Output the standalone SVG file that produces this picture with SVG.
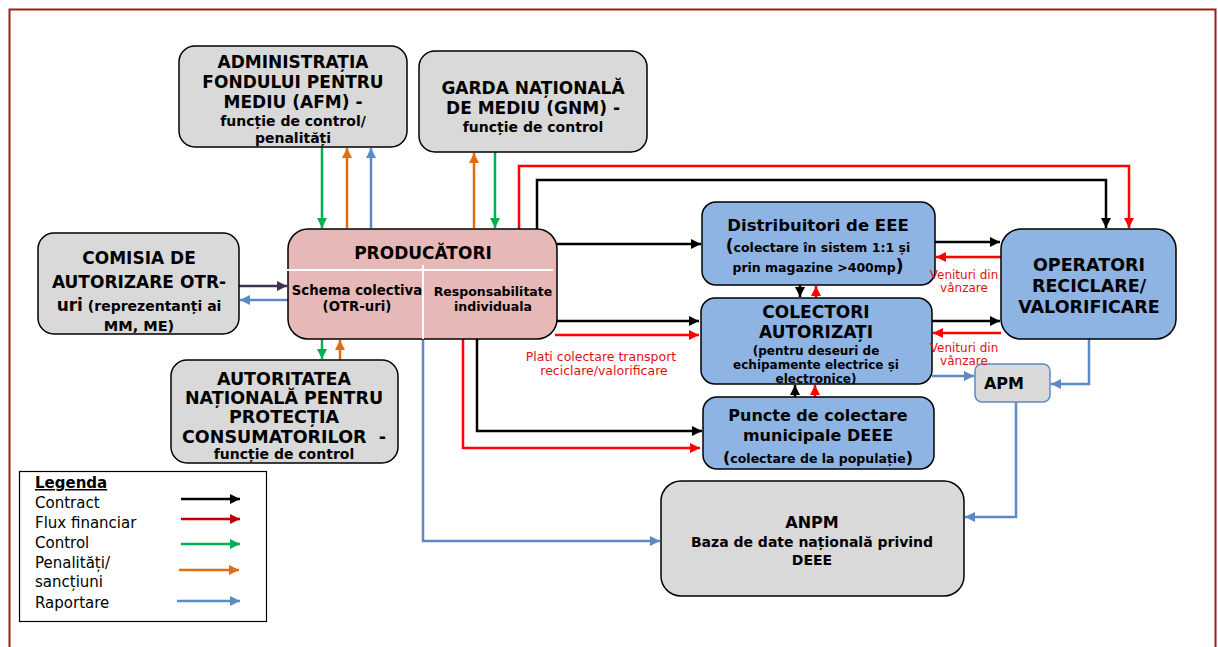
<svg xmlns="http://www.w3.org/2000/svg" width="1218" height="647" viewBox="0 0 1218 647">
<style>
.box{stroke:#000;stroke-width:1.5}
.gray{fill:#d9d9d9}
.blue{fill:#8eb4e3}
.pink{fill:#e6b8b7}
text{font-family:"DejaVu Sans","Liberation Sans",sans-serif;text-anchor:middle;fill:#000}
.b{font-weight:bold}
.t17{font-size:17px}
.t13{font-size:14px}
.t12{font-size:12px}
.red{fill:#e01010;font-size:12.5px}
.red2{fill:#e01010;font-size:12px}
.leg{font-size:15px;text-anchor:start}
.k{stroke:#000;fill:none;stroke-width:2.5}
.r{stroke:#ff0000;fill:none;stroke-width:2.5}
.g{stroke:#00b050;fill:none;stroke-width:2.5}
.o{stroke:#e46c0a;fill:none;stroke-width:2.5}
.bl{stroke:#5b8ac6;fill:none;stroke-width:2.5}
.pu{stroke:#403152;fill:none;stroke-width:2.5}
</style>
<defs>
<marker id="ak" viewBox="0 0 10 10" refX="10" refY="5" markerWidth="10" markerHeight="10" markerUnits="userSpaceOnUse" orient="auto"><path d="M0,0L10,5L0,10z" fill="#000"/></marker>
<marker id="ar" viewBox="0 0 10 10" refX="10" refY="5" markerWidth="10" markerHeight="10" markerUnits="userSpaceOnUse" orient="auto"><path d="M0,0L10,5L0,10z" fill="#ff0000"/></marker>
<marker id="ag" viewBox="0 0 10 10" refX="10" refY="5" markerWidth="10" markerHeight="10" markerUnits="userSpaceOnUse" orient="auto"><path d="M0,0L10,5L0,10z" fill="#00b050"/></marker>
<marker id="ao" viewBox="0 0 10 10" refX="10" refY="5" markerWidth="10" markerHeight="10" markerUnits="userSpaceOnUse" orient="auto"><path d="M0,0L10,5L0,10z" fill="#e46c0a"/></marker>
<marker id="ab" viewBox="0 0 10 10" refX="10" refY="5" markerWidth="10" markerHeight="10" markerUnits="userSpaceOnUse" orient="auto"><path d="M0,0L10,5L0,10z" fill="#5b8ac6"/></marker>
<marker id="ap" viewBox="0 0 10 10" refX="10" refY="5" markerWidth="10" markerHeight="10" markerUnits="userSpaceOnUse" orient="auto"><path d="M0,0L10,5L0,10z" fill="#403152"/></marker>
<marker id="adr" viewBox="0 0 10 10" refX="10" refY="5" markerWidth="10" markerHeight="10" markerUnits="userSpaceOnUse" orient="auto"><path d="M0,0L10,5L0,10z" fill="#c00000"/></marker>
</defs>
<rect x="0" y="0" width="1218" height="647" fill="#fff"/>
<rect x="9.5" y="9.5" width="1206" height="660" fill="none" stroke="#a01c1c" stroke-width="2"/>

<g id="connectors">
<line class="g" x1="322" y1="147" x2="322" y2="228" marker-end="url(#ag)"/>
<line class="o" x1="347" y1="228" x2="347" y2="148" marker-end="url(#ao)"/>
<line class="bl" x1="371" y1="228" x2="371" y2="148" marker-end="url(#ab)"/>
<line class="o" x1="474" y1="228" x2="474" y2="153" marker-end="url(#ao)"/>
<line class="g" x1="495" y1="152" x2="495" y2="228" marker-end="url(#ag)"/>
<polyline class="r" points="519,229 519,166 1129,166 1129,228" marker-end="url(#ar)"/>
<polyline class="k" points="537,229 537,180 1106,180 1106,228" marker-end="url(#ak)"/>
<line class="k" x1="557" y1="244" x2="701" y2="244" marker-end="url(#ak)"/>
<line class="k" x1="555" y1="321" x2="699" y2="321" marker-end="url(#ak)"/>
<line class="r" x1="555" y1="335" x2="699" y2="335" marker-end="url(#ar)"/>
<polyline class="k" points="477,339 477,431 702,431" marker-end="url(#ak)"/>
<polyline class="r" points="463,339 463,448 700,448" marker-end="url(#ar)" stroke-width="2"/>
<line class="k" x1="935" y1="242" x2="1000" y2="242" marker-end="url(#ak)"/>
<line class="r" x1="1001" y1="257" x2="936" y2="257" marker-end="url(#ar)"/>
<line class="k" x1="932" y1="321" x2="1000" y2="321" marker-end="url(#ak)"/>
<line class="r" x1="1001" y1="333" x2="933" y2="333" marker-end="url(#ar)"/>
<line class="k" x1="800" y1="285" x2="800" y2="297" marker-end="url(#ak)" stroke-width="1.5"/>
<line class="r" x1="816" y1="298" x2="816" y2="286" marker-end="url(#ar)" stroke-width="1.5"/>
<line class="k" x1="795" y1="397" x2="795" y2="385" marker-end="url(#ak)" stroke-width="1.5"/>
<line class="r" x1="815" y1="397" x2="815" y2="385" marker-end="url(#ar)" stroke-width="1.5"/>
<polyline class="bl" points="423,339 423,541 660,541" marker-end="url(#ab)"/>
<line class="bl" x1="932" y1="376" x2="974" y2="376" marker-end="url(#ab)" stroke-width="2"/>
<polyline class="bl" points="1089,339 1089,384 1051,384" marker-end="url(#ab)"/>
<polyline class="bl" points="1016,402 1016,517 965,517" marker-end="url(#ab)" stroke-width="2"/>
<line class="pu" x1="239" y1="286" x2="287" y2="286" marker-end="url(#ap)"/>
<line class="bl" x1="288" y1="300" x2="240" y2="300" marker-end="url(#ab)"/>
<line class="g" x1="322" y1="339" x2="322" y2="359" marker-end="url(#ag)"/>
<line class="o" x1="340" y1="360" x2="340" y2="340" marker-end="url(#ao)"/>
</g>

<g id="afm">
<rect class="box gray" x="179" y="46" width="228" height="101" rx="16"/>
<text class="b t17" x="293" y="68">ADMINISTRAȚIA</text>
<text class="b t17" x="293" y="88">FONDULUI PENTRU</text>
<text class="b t17" x="293" y="108">MEDIU (AFM) -</text>
<text class="b t13" x="293" y="126">funcție de control/</text>
<text class="b t13" x="293" y="143">penalități</text>
</g>

<g id="gnm">
<rect class="box gray" x="419" y="51" width="228" height="101" rx="16"/>
<text class="b t17" x="533" y="94">GARDA NAȚIONALĂ</text>
<text class="b t17" x="533" y="114">DE MEDIU (GNM) -</text>
<text class="b t13" x="533" y="132">funcție de control</text>
</g>

<g id="comisia">
<rect class="box gray" x="38" y="233" width="201" height="101" rx="16"/>
<text class="b t17" x="139" y="264">COMISIA DE</text>
<text class="b t17" x="139" y="288">AUTORIZARE OTR-</text>
<text class="b" x="139" y="311"><tspan font-size="17px">uri</tspan><tspan font-size="14px"> (reprezentanți ai</tspan></text>
<text class="b" font-size="14.5px" x="139" y="331">MM, ME)</text>
</g>

<g id="producatori">
<rect class="box pink" x="288" y="229" width="269" height="110" rx="20"/>
<text class="b" font-size="17px" x="423" y="259">PRODUCĂTORI</text>
<line x1="283" y1="270" x2="553" y2="270" stroke="#fff" stroke-width="2"/>
<line x1="423" y1="265" x2="423" y2="339" stroke="#fff" stroke-width="2"/>
<text class="b" font-size="13.3px" x="357" y="295">Schema colectiva</text>
<text class="b" font-size="13.3px" x="357" y="311">(OTR-uri)</text>
<text class="b" font-size="12.5px" x="493" y="296">Responsabilitate</text>
<text class="b" font-size="12.5px" x="493" y="311">individuala</text>
</g>

<g id="anpc">
<rect class="box gray" x="171" y="360" width="227" height="103" rx="16"/>
<text class="b" font-size="17.5px" x="284" y="385">AUTORITATEA</text>
<text class="b" font-size="17.5px" x="284" y="404">NAȚIONALĂ PENTRU</text>
<text class="b" font-size="17.5px" x="284" y="423">PROTECȚIA</text>
<text class="b" font-size="17.5px" x="284" y="443" xml:space="preserve">CONSUMATORILOR  -</text>
<text class="b t13" x="284" y="459">funcție de control</text>
</g>

<g id="distribuitori">
<rect class="box blue" x="702" y="202" width="233" height="83" rx="14"/>
<text class="b" font-size="16.5px" x="818" y="231">Distribuitori de EEE</text>
<text class="b" x="818" y="252"><tspan font-size="17px">(</tspan><tspan font-size="12.5px">colectare în sistem 1:1 și</tspan></text>
<text class="b" x="818" y="272"><tspan font-size="12.5px">prin magazine &gt;400mp</tspan><tspan font-size="17px">)</tspan></text>
</g>

<g id="colectori">
<rect class="box blue" x="701" y="298" width="231" height="86" rx="14"/>
<text class="b" font-size="17px" x="816" y="318">COLECTORI</text>
<text class="b" font-size="17px" x="816" y="338">AUTORIZAȚI</text>
<text class="b t12" x="816" y="355">(pentru deseuri de</text>
<text class="b t12" x="816" y="369">echipamente electrice și</text>
<text class="b t12" x="816" y="383">electronice)</text>
</g>

<g id="puncte">
<rect class="box blue" x="703" y="397" width="231" height="72" rx="14"/>
<text class="b" font-size="16px" x="818" y="421">Puncte de colectare</text>
<text class="b" font-size="16px" x="818" y="441">municipale DEEE</text>
<text class="b" x="818" y="463"><tspan font-size="16px">(</tspan><tspan font-size="12.5px">colectare de la populație</tspan><tspan font-size="16px">)</tspan></text>
</g>

<g id="operatori">
<rect class="box blue" x="1001" y="229" width="175" height="110" rx="20"/>
<text class="b" font-size="17.5px" x="1089" y="271">OPERATORI</text>
<text class="b" font-size="17.5px" x="1089" y="292">RECICLARE/</text>
<text class="b" font-size="17.5px" x="1089" y="313">VALORIFICARE</text>
</g>

<g id="apm">
<rect x="975" y="364" width="75" height="38" rx="7" fill="#d9d9d9" stroke="#5b8ac6" stroke-width="1.5"/>
<text class="b" font-size="16px" x="1004" y="389">APM</text>
</g>

<g id="anpm">
<rect class="box gray" x="661" y="481" width="303" height="115" rx="20"/>
<text class="b" font-size="16px" x="812" y="528">ANPM</text>
<text class="b" font-size="14px" x="812" y="547">Baza de date națională privind</text>
<text class="b" font-size="14px" x="812" y="565">DEEE</text>
</g>

<g id="labels">
<text class="red" x="601" y="361">Plati colectare transport</text>
<text class="red" x="604" y="375">reciclare/valorificare</text>
<text class="red2" x="964" y="279">Venituri din</text>
<text class="red2" x="964" y="292">vânzare</text>
<text class="red2" x="964" y="352">Venituri din</text>
<text class="red2" x="964" y="365">vânzare</text>
</g>

<g id="legend">
<rect x="19.5" y="471.5" width="247" height="150" fill="#fff" stroke="#000" stroke-width="1.2"/>
<text class="leg b" x="35" y="488" text-decoration="underline">Legenda</text>
<text class="leg" x="35" y="508">Contract</text>
<text class="leg" x="35" y="528">Flux financiar</text>
<text class="leg" x="35" y="548">Control</text>
<text class="leg" x="35" y="568">Penalități/</text>
<text class="leg" x="35" y="587">sancțiuni</text>
<text class="leg" x="35" y="608">Raportare</text>
<line x1="181" y1="499" x2="240" y2="499" stroke="#000" stroke-width="2.5" marker-end="url(#ak)"/>
<line x1="181" y1="519" x2="240" y2="519" stroke="#c00000" stroke-width="2.5" marker-end="url(#adr)"/>
<line x1="181" y1="544" x2="240" y2="544" stroke="#00b050" stroke-width="2.5" marker-end="url(#ag)"/>
<line x1="179" y1="570" x2="239" y2="570" stroke="#e46c0a" stroke-width="2.5" marker-end="url(#ao)"/>
<line x1="177" y1="601" x2="240" y2="601" stroke="#5b8ac6" stroke-width="2.5" marker-end="url(#ab)"/>
</g>
</svg>
